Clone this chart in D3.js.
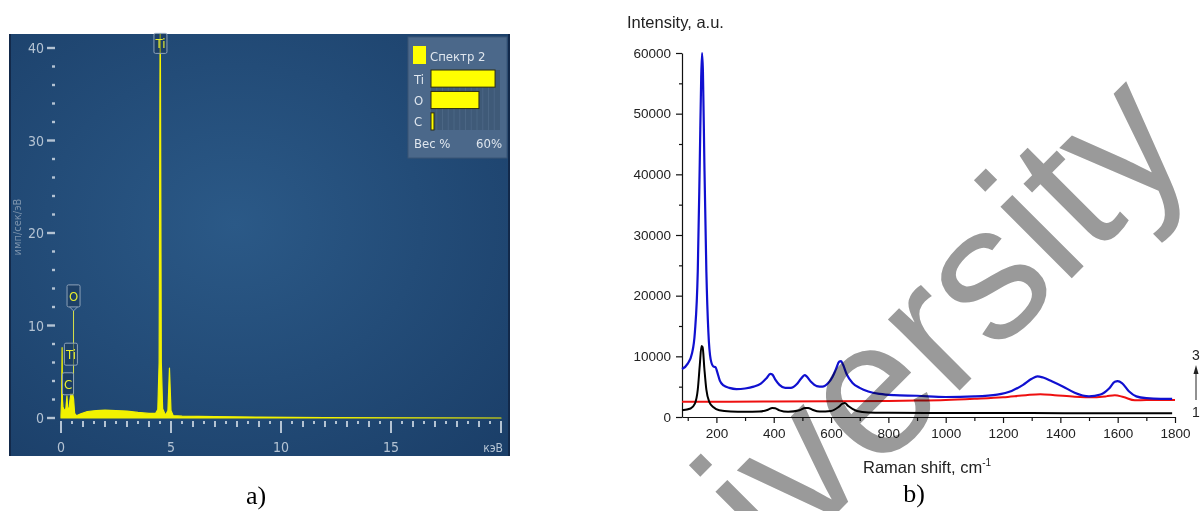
<!DOCTYPE html>
<html>
<head>
<meta charset="utf-8">
<script src="https://cdn.jsdelivr.net/npm/d3@7"></script>
<style>
  body { margin: 0; background: #fff; }
  svg { display: block; }
</style>
</head>
<body>
<svg id="fig" width="1201" height="511"></svg>
<script>
// ---- panel a: EDS spectrum ----
const edsEnergy = [0, 0.03, 0.05, 0.065, 0.09, 0.15, 0.22, 0.27, 0.3, 0.35, 0.4, 0.45, 0.5, 0.53, 0.57, 0.62, 0.7,
  0.9, 1.2, 1.6, 2.0, 2.5, 3.0, 3.5, 4.0, 4.3, 4.4, 4.46, 4.51, 4.56, 4.62, 4.75, 4.86, 4.93, 5.0, 5.1, 5.5, 7, 9, 12, 15, 20];
const edsCounts = [0.3, 2.0, 7.6, 2.0, 1.2, 0.8, 1.0, 2.4, 1.2, 0.7, 1.8, 2.6, 2.5, 2.6, 2.1, 0.5, 0.25,
  0.45, 0.7, 0.8, 0.85, 0.8, 0.75, 0.6, 0.5, 0.5, 0.9, 6, 46, 6, 1.0, 0.3, 0.8, 5.4, 0.8, 0.25, 0.2, 0.15, 0.1, 0.05, 0.02, 0];
const edsYTicks = [0, 10, 20, 30, 40];
const edsXTicks = [0, 5, 10, 15];
const edsXUnit = 'кэВ';
const edsYTitle = 'имп/сек/эВ';
const edsPeakNames = ['Ti', 'O', 'Ti', 'C'];
const edsPeakEnergy = [4.52, 0.57, 0.45, 0.32];
const edsPeakLevel = [40.5, 13.2, 6.9, 3.7];
const legendTitle = 'Спектр 2';
const legendElements = ['Ti', 'O', 'C'];
const legendWeights = [55.7, 41.7, 2.6];

// ---- panel b: Raman spectra ----
const ramanXTicks = [200, 400, 600, 800, 1000, 1200, 1400, 1600, 1800];
const ramanYTicks = [0, 10000, 20000, 30000, 40000, 50000, 60000];
const shift3 = [80, 100, 115, 125, 135, 142, 147, 150, 153, 158, 165, 172, 180, 190, 197, 203, 212, 225, 245, 270, 300,
  330, 355, 375, 388, 395, 405, 420, 440, 460, 480, 495, 508, 515, 530, 550, 570, 590, 605, 618, 628, 635, 642, 655,
  675, 700, 730, 770, 820, 900, 1000, 1100, 1180, 1230, 1270, 1300, 1320, 1340, 1370, 1410, 1450, 1500, 1540, 1570,
  1590, 1600, 1615, 1640, 1665, 1700, 1750, 1790];
const intensity3 = [7900, 8800, 10500, 14000, 24000, 42000, 56000, 60000, 57000, 42000, 24000, 14000, 9500, 8300, 8200,
  7400, 6000, 5200, 4800, 4600, 4700, 5000, 5500, 6400, 7100, 7000, 6200, 5300, 4800, 4800, 5400, 6300, 6900, 6700,
  5800, 5100, 5000, 5600, 6600, 8000, 9100, 9200, 8600, 7000, 5600, 4800, 4200, 3800, 3600, 3500, 3300, 3400, 3700,
  4300, 5300, 6300, 6700, 6500, 5900, 5000, 4000, 3400, 3700, 4700, 5800, 5900, 5600, 4200, 3400, 3100, 3000, 3000];
const shift2 = [80, 200, 400, 600, 800, 900, 1000, 1100, 1200, 1280, 1330, 1380, 1450, 1520, 1560, 1590, 1620, 1660, 1700, 1800];
const intensity2 = [2500, 2500, 2550, 2600, 2650, 2700, 2800, 3000, 3250, 3600, 3750, 3600, 3350, 3250, 3400, 3600,
  3300, 2750, 2800, 2800];
const shift1 = [80, 110, 125, 135, 142, 148, 152, 158, 165, 175, 190, 210, 250, 300, 350, 380, 395, 405, 420, 450, 490,
  510, 520, 535, 560, 600, 625, 640, 648, 660, 690, 730, 800, 1000, 1300, 1600, 1790];
const intensity1 = [1100, 1400, 2200, 4500, 8500, 11700, 11500, 8000, 4500, 2500, 1600, 1100, 900, 850, 900, 1200, 1500,
  1450, 1100, 850, 1100, 1500, 1500, 1200, 900, 1000, 1600, 2200, 2300, 1800, 1000, 750, 700, 650, 650, 600, 600];

const svg = d3.select('#fig');
const narrow = "'Liberation Sans Narrow','DejaVu Sans Condensed',sans-serif";
const arial = "'Liberation Sans',Arial,sans-serif";
const serif = "'Liberation Serif','Times New Roman',serif";

// ================= panel a =================
const defs = svg.append('defs');
const bg = defs.append('radialGradient').attr('id', 'edsBg')
  .attr('cx', '45%').attr('cy', '45%').attr('r', '75%');
bg.append('stop').attr('offset', '0%').attr('stop-color', '#2b5987');
bg.append('stop').attr('offset', '100%').attr('stop-color', '#1b3f69');
defs.append('clipPath').attr('id', 'edsClip')
  .append('rect').attr('x', 10).attr('y', 34).attr('width', 499).attr('height', 422);

const pa = svg.append('g');
pa.append('rect').attr('x', 10).attr('y', 34).attr('width', 499).attr('height', 422)
  .attr('fill', 'url(#edsBg)');
pa.append('line').attr('x1', 10).attr('x2', 10).attr('y1', 34).attr('y2', 456)
  .attr('stroke', '#12294a').attr('stroke-width', 2);
pa.append('line').attr('x1', 509).attr('x2', 509).attr('y1', 34).attr('y2', 456)
  .attr('stroke', '#12294a').attr('stroke-width', 2);

const ex = d3.scaleLinear().domain([0, 20]).range([61, 501]);
const ey = d3.scaleLinear().domain([0, 40]).range([418, 48]);
const tickCol = '#b4c3d3';

// y axis: dashes at majors, dots at minors
pa.append('g').selectAll('rect').data(d3.range(0, 41, 2)).join('rect')
  .attr('x', d => d % 10 === 0 ? 47 : 52)
  .attr('y', d => ey(d) - 1.2)
  .attr('width', d => d % 10 === 0 ? 8 : 3)
  .attr('height', 2.4)
  .attr('fill', tickCol);
pa.append('g').selectAll('text').data(edsYTicks).join('text')
  .attr('x', 44).attr('y', d => ey(d) + 5)
  .attr('text-anchor', 'end')
  .attr('font-family', narrow).attr('font-size', 14)
  .attr('fill', tickCol)
  .text(d => d);
pa.append('text')
  .attr('transform', `translate(21, 227) rotate(-90)`)
  .attr('text-anchor', 'middle')
  .attr('font-family', narrow).attr('font-size', 11)
  .attr('fill', '#7d93ac')
  .text(edsYTitle);

// x axis ticks
pa.append('g').selectAll('rect').data(d3.range(0, 20.01, 0.5)).join('rect')
  .attr('x', d => ex(d) - 1)
  .attr('y', 421)
  .attr('width', 2)
  .attr('height', d => d % 5 === 0 ? 12 : (d % 1 === 0 ? 6 : 3))
  .attr('fill', tickCol);
pa.append('g').selectAll('text').data(edsXTicks).join('text')
  .attr('x', d => ex(d)).attr('y', 452)
  .attr('text-anchor', 'middle')
  .attr('font-family', narrow).attr('font-size', 14)
  .attr('fill', tickCol)
  .text(d => d);
pa.append('text')
  .attr('x', ex(20) + 2).attr('y', 452)
  .attr('text-anchor', 'end')
  .attr('font-family', narrow).attr('font-size', 12)
  .attr('fill', tickCol)
  .text(edsXUnit);

// spectrum
const edsPts = edsEnergy.map((e, i) => [e, edsCounts[i]]);
const edsG = pa.append('g').attr('clip-path', 'url(#edsClip)');
edsG.append('path').datum(edsPts)
  .attr('d', d3.area().x(d => ex(d[0])).y0(ey(0)).y1(d => ey(d[1])))
  .attr('fill', '#f2f200').attr('stroke', '#f2f200').attr('stroke-width', 1.2)
  .attr('stroke-linejoin', 'round');

// peak labels
edsPeakNames.forEach((name, i) => {
  const cx = ex(edsPeakEnergy[i]);
  const cy = ey(edsPeakLevel[i]);
  const w = name === 'C' ? 11 : 13;
  const h = i === 0 ? 20 : 22;
  const g = pa.append('g');
  if (i === 1) {
    g.append('line').attr('x1', cx).attr('x2', cx)
      .attr('y1', cy + h / 2 + 4).attr('y2', ey(2.6))
      .attr('stroke', '#d8e24a').attr('stroke-width', 1);
    g.append('path')
      .attr('d', `M${cx - 4},${cy + h / 2} L${cx},${cy + h / 2 + 4} L${cx + 4},${cy + h / 2}`)
      .attr('fill', 'none').attr('stroke', '#8ea2b8').attr('stroke-width', 1);
  }
  g.append('rect')
    .attr('x', cx - w / 2).attr('y', cy - h / 2)
    .attr('width', w).attr('height', h).attr('rx', 1.5)
    .attr('fill', 'rgba(25,55,90,0.55)')
    .attr('stroke', '#8ea2b8').attr('stroke-width', 1);
  g.append('text')
    .attr('x', cx).attr('y', cy + 5)
    .attr('text-anchor', 'middle')
    .attr('font-family', narrow).attr('font-size', 13)
    .attr('fill', '#e8ee30')
    .text(name);
});

// legend
const lg = pa.append('g');
lg.append('rect').attr('x', 408).attr('y', 37).attr('width', 99).attr('height', 121)
  .attr('fill', '#4b688a').attr('stroke', '#3a5574').attr('stroke-width', 1);
lg.append('rect').attr('x', 413).attr('y', 46).attr('width', 13).attr('height', 18)
  .attr('fill', '#ffff00');
lg.append('text').attr('x', 430).attr('y', 61)
  .attr('font-family', narrow).attr('font-size', 13).attr('fill', '#dfe6ee')
  .text(legendTitle);
const lx = d3.scaleLinear().domain([0, 60]).range([431, 500]);
const ly = d3.scaleBand().domain(legendElements).range([70, 130]).paddingInner(0.2);
lg.append('rect').attr('x', lx(0)).attr('y', 70).attr('width', lx(60) - lx(0)).attr('height', 60)
  .attr('fill', '#3f5a78');
lg.append('g').selectAll('line').data(d3.range(5, 60, 5)).join('line')
  .attr('x1', d => lx(d)).attr('x2', d => lx(d)).attr('y1', 70).attr('y2', 130)
  .attr('stroke', '#4b6684').attr('stroke-width', 1);
lg.append('g').selectAll('rect').data(legendElements).join('rect')
  .attr('x', lx(0)).attr('y', d => ly(d))
  .attr('width', (d, i) => lx(legendWeights[i]) - lx(0))
  .attr('height', ly.bandwidth())
  .attr('fill', '#ffff00').attr('stroke', '#2c2c10').attr('stroke-width', 1);
lg.append('g').selectAll('text').data(legendElements).join('text')
  .attr('x', 414).attr('y', d => ly(d) + ly.bandwidth() / 2 + 5)
  .attr('font-family', narrow).attr('font-size', 13).attr('fill', '#dfe6ee')
  .text(d => d);
lg.append('text').attr('x', 414).attr('y', 148)
  .attr('font-family', narrow).attr('font-size', 13).attr('fill', '#dfe6ee')
  .text('Вес %');
lg.append('text').attr('x', 502).attr('y', 148).attr('text-anchor', 'end')
  .attr('font-family', narrow).attr('font-size', 13).attr('fill', '#dfe6ee')
  .text('60%');

svg.append('text').attr('x', 256).attr('y', 504).attr('text-anchor', 'middle')
  .attr('font-family', serif).attr('font-size', 26)
  .text('a)');

// ================= panel b =================
const pb = svg.append('g');
const rx = d3.scaleLinear().domain([80, 1800]).range([682, 1175]);
const ry = d3.scaleLinear().domain([0, 60000]).range([417, 53]);

const yMinor = d3.range(5000, 60000, 10000);
const xMinor = d3.range(100, 1800, 200);

pb.append('g').attr('transform', 'translate(682,0)')
  .call(d3.axisLeft(ry).tickValues(yMinor).tickSize(3).tickFormat(''))
  .call(g => g.select('.domain').remove());
pb.append('g').attr('transform', 'translate(0,417)')
  .call(d3.axisBottom(rx).tickValues(xMinor).tickSize(4).tickFormat(''))
  .call(g => g.select('.domain').remove());
const yAx = pb.append('g').attr('transform', 'translate(682,0)')
  .call(d3.axisLeft(ry).tickValues(ramanYTicks).tickSize(6).tickSizeOuter(0).tickPadding(5)
    .tickFormat(d3.format('d')));
const xAx = pb.append('g').attr('transform', 'translate(0,417)')
  .call(d3.axisBottom(rx).tickValues(ramanXTicks).tickSize(6).tickSizeOuter(0).tickPadding(5)
    .tickFormat(d3.format('d')));
[yAx, xAx].forEach(a => {
  a.selectAll('text').attr('font-family', arial).attr('font-size', 13.5).attr('fill', '#222');
  a.selectAll('line,path').attr('stroke', '#111').attr('stroke-width', 1.2);
});
pb.selectAll('.tick line').attr('stroke', '#111').attr('stroke-width', 1.2);

pb.append('text').attr('x', 627).attr('y', 28)
  .attr('font-family', arial).attr('font-size', 16.5).attr('fill', '#222')
  .text('Intensity, a.u.');
const xt = pb.append('text').attr('x', 863).attr('y', 473)
  .attr('font-family', arial).attr('font-size', 16.5).attr('fill', '#222');
xt.append('tspan').text('Raman shift, cm');
xt.append('tspan').attr('dy', -7).attr('font-size', 10).text('-1');

const line = d3.line().x(d => rx(d[0])).y(d => ry(d[1])).curve(d3.curveMonotoneX);
const series = [
  { s: shift2, v: intensity2, c: '#ee1010', w: 2 },
  { s: shift1, v: intensity1, c: '#000', w: 2 },
  { s: shift3, v: intensity3, c: '#1010d0', w: 2.2 }
];
series.forEach(d => {
  pb.append('path').datum(d.s.map((x, i) => [x, d.v[i]]))
    .attr('d', line)
    .attr('fill', 'none').attr('stroke', d.c).attr('stroke-width', d.w)
    .attr('stroke-linejoin', 'round');
});

// curve numbering with arrow
pb.append('text').attr('x', 1196).attr('y', 360).attr('text-anchor', 'middle')
  .attr('font-family', arial).attr('font-size', 14).attr('fill', '#222').text('3');
pb.append('text').attr('x', 1196).attr('y', 417).attr('text-anchor', 'middle')
  .attr('font-family', arial).attr('font-size', 14).attr('fill', '#222').text('1');
pb.append('line').attr('x1', 1196).attr('x2', 1196).attr('y1', 400).attr('y2', 372)
  .attr('stroke', '#222').attr('stroke-width', 1);
pb.append('path').attr('d', 'M1193.5,374 L1196,365 L1198.5,374 Z').attr('fill', '#222');

svg.append('text').attr('x', 914).attr('y', 502).attr('text-anchor', 'middle')
  .attr('font-family', serif).attr('font-size', 26)
  .text('b)');

// watermark over the figure (multiplied so the curves still show through)
svg.append('text')
  .attr('transform', 'translate(605,745) rotate(-45)')
  .attr('font-family', arial).attr('font-size', 191)
  .attr('fill', '#9a9a9a')
  .style('mix-blend-mode', 'multiply')
  .text('University');
</script>
</body>
</html>
